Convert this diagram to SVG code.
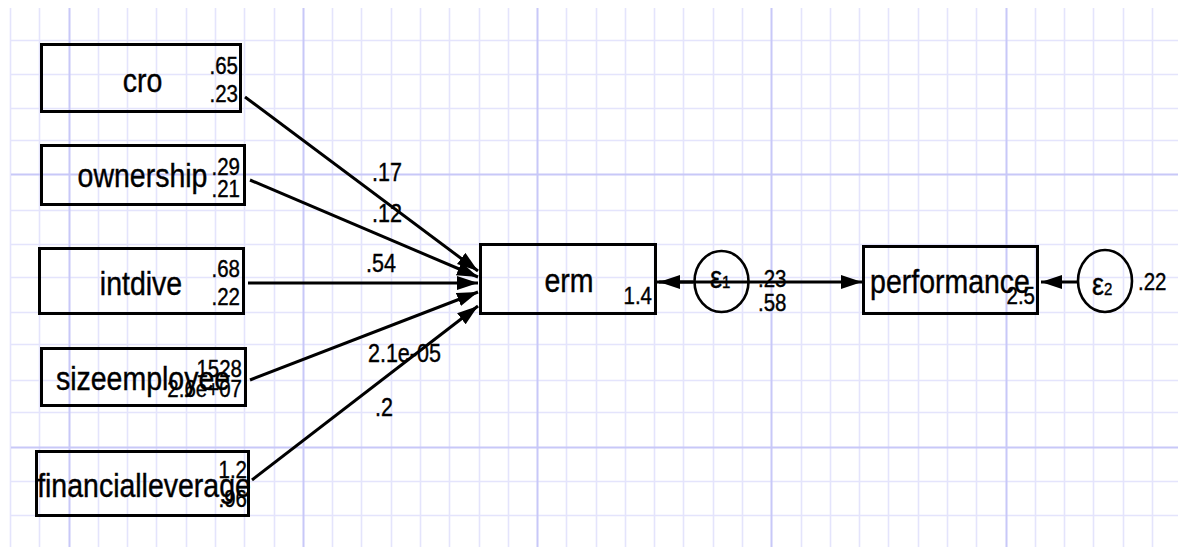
<svg xmlns="http://www.w3.org/2000/svg" width="1178" height="547" viewBox="0 0 1178 547">
<style>
.g1{stroke:#e4e4fc;stroke-width:1.6;fill:none}
.g2{stroke:#c8c8f8;stroke-width:2}
.box{fill:none;stroke:#000;stroke-width:3}
.conn path{stroke:#000;stroke-width:3;fill:none;marker-end:url(#ah)}
text{font-family:'Liberation Sans',Arial,sans-serif;fill:#000;stroke:#000;stroke-width:0.35}
.big{font-size:28.5px;text-anchor:middle}
.sm{font-size:20.5px;text-anchor:end}
.sms{font-size:20.5px}
.pl{font-size:21.5px}
.eps{font-size:27px}
.sub{font-size:15px}
</style>
<defs>
<marker id="ah" markerUnits="userSpaceOnUse" markerWidth="24" markerHeight="16" refX="21" refY="7" orient="auto">
<path d="M0,0 L21,7 L0,14 z" fill="#000"/>
</marker>
</defs>
<rect width="1178" height="547" fill="#fff"/>
<g id="grid">
<path class="g1" d="M10.5 8V547M39.5 8V547M98.5 8V547M127.5 8V547M156.5 8V547M186.5 8V547M215.5 8V547M244.5 8V547M274.5 8V547M332.5 8V547M361.5 8V547M391.5 8V547M420.5 8V547M449.5 8V547M479.5 8V547M508.5 8V547M566.5 8V547M596.5 8V547M625.5 8V547M654.5 8V547M683.5 8V547M713.5 8V547M742.5 8V547M801.5 8V547M830.5 8V547M859.5 8V547M888.5 8V547M918.5 8V547M947.5 8V547M976.5 8V547M1035.5 8V547M1064.5 8V547M1093.5 8V547M1123.5 8V547M1152.5 8V547"/>
<path class="g1" d="M11 40.5H1178M11 74.5H1178M11 108.5H1178M11 140.5H1178M11 210.5H1178M11 244.5H1178M11 277.5H1178M11 312.5H1178M11 344.5H1178M11 380.5H1178M11 412.5H1178M11 481.5H1178M11 515.5H1178"/>
<path class="g2" d="M69.5 8V547M303.5 8V547M537.5 8V547M771.5 8V547M1006.5 8V547M11 174.5H1178M11 447.5H1178"/>
</g>
<g id="connectors" class="conn">
<path d="M245,97 L478,271"/>
<path d="M250,180 L478,277"/>
<path d="M248,283 L478,283"/>
<path d="M250,380 L478,292"/>
<path d="M252,480 L478,306"/>
<path d="M657,282 L862,282"/>
<path d="M693,282 L659,282"/>
<path d="M1077,282 L1041,282"/>
</g>
<g id="path-labels">
<text class="pl" transform="translate(372 181) scale(1 1.157)">.17</text>
<text class="pl" transform="translate(372 222) scale(1 1.157)">.12</text>
<text class="pl" transform="translate(366 272) scale(1 1.157)">.54</text>
<text class="pl" transform="translate(368 362) scale(1 1.157)">2.1e-05</text>
<text class="pl" transform="translate(375 416) scale(1 1.157)">.2</text>
</g>
<g id="cro">
<rect class="box" x="41.5" y="44.5" width="199" height="67"/>
<text class="big" transform="translate(142.5 92) scale(1 1.157)">cro</text>
<text class="sm" transform="translate(238 74) scale(1 1.157)">.65</text>
<text class="sm" transform="translate(238 102) scale(1 1.157)">.23</text>
</g>
<g id="ownership">
<rect class="box" x="41.5" y="145.5" width="203" height="59"/>
<text class="big" transform="translate(142.5 187) scale(1 1.157)">ownership</text>
<text class="sm" transform="translate(240 175) scale(1 1.157)">.29</text>
<text class="sm" transform="translate(240 197) scale(1 1.157)">.21</text>
</g>
<g id="intdive">
<rect class="box" x="39.5" y="248.5" width="204" height="65"/>
<text class="big" transform="translate(141 295) scale(1 1.157)">intdive</text>
<text class="sm" transform="translate(240 277) scale(1 1.157)">.68</text>
<text class="sm" transform="translate(240 305) scale(1 1.157)">.22</text>
</g>
<g id="sizeemployee">
<rect class="box" x="41.5" y="348.5" width="204" height="57"/>
<text class="big" transform="translate(143 390) scale(1 1.157)">sizeemployee</text>
<text class="sm" transform="translate(242 377) scale(1 1.157)">1528</text>
<text class="sm" transform="translate(242 397) scale(1 1.157)">2.6e+07</text>
</g>
<g id="financialleverage">
<rect class="box" x="36.5" y="451.5" width="212" height="64"/>
<text class="big" transform="translate(144 497) scale(1 1.157)">financialleverage</text>
<text class="sm" transform="translate(247 478) scale(1 1.157)">1.2</text>
<text class="sm" transform="translate(247 507) scale(1 1.157)">.96</text>
</g>
<g id="erm">
<rect class="box" x="480.5" y="244.5" width="175" height="69"/>
<text class="big" transform="translate(569 292) scale(1 1.157)">erm</text>
<text class="sm" transform="translate(652 304) scale(1 1.157)">1.4</text>
</g>
<g id="e1">
<ellipse cx="721.5" cy="281.5" rx="27" ry="30.5" fill="none" stroke="#000" stroke-width="2.6"/>
<text class="eps" transform="translate(710 288) scale(1 1.157)">ε<tspan class="sub">1</tspan></text>
<text class="sms" transform="translate(758 287) scale(1 1.157)">.23</text>
<text class="sms" transform="translate(758 311) scale(1 1.157)">.58</text>
</g>
<g id="performance">
<rect class="box" x="863.5" y="246.5" width="174" height="67"/>
<text class="big" transform="translate(950 293) scale(1 1.157)">performance</text>
<text class="sm" transform="translate(1035 304) scale(1 1.157)">2.5</text>
</g>
<g id="e2">
<ellipse cx="1105" cy="281" rx="27" ry="31" fill="none" stroke="#000" stroke-width="2.6"/>
<text class="eps" transform="translate(1092 295) scale(1 1.157)">ε<tspan class="sub">2</tspan></text>
<text class="sms" transform="translate(1138 290) scale(1 1.157)">.22</text>
</g>
</svg>
